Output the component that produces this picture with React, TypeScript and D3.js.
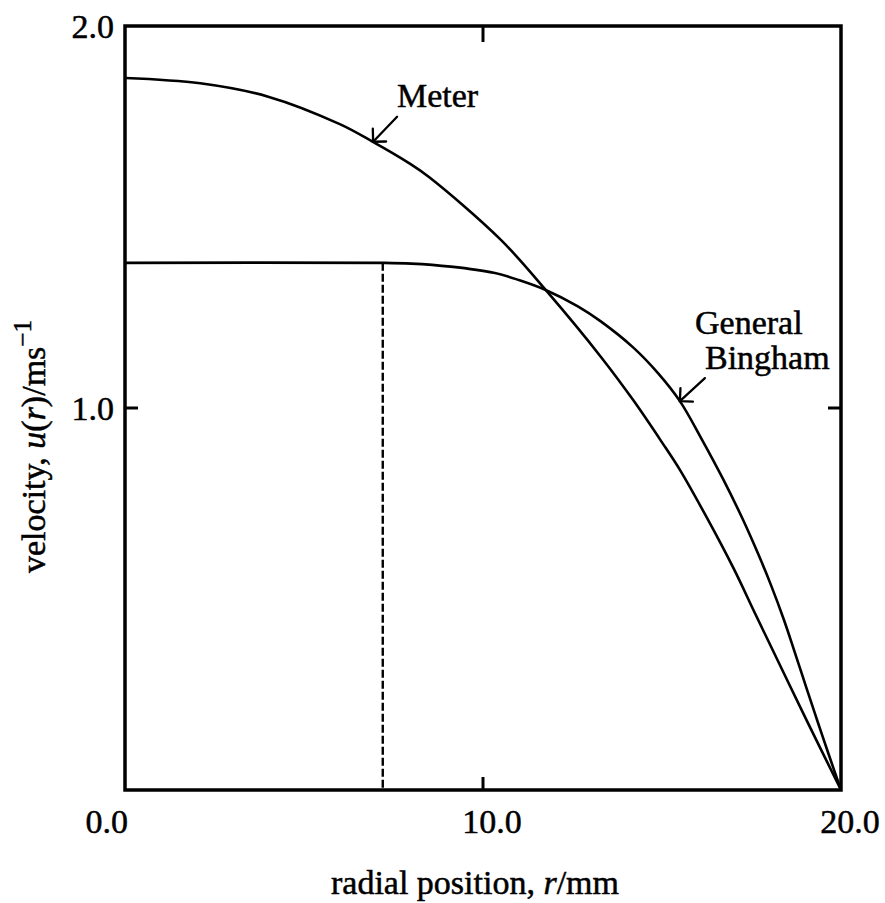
import React from "react";
import * as d3 from "d3";

// Data
const meterR = [0, 2.1, 4.0, 6.0, 6.9, 7.9, 8.5, 10.5, 11.75, 13.3, 14.2, 15.0, 15.5, 16.2, 17.0, 17.6, 18.3, 19.0, 20];
const meterV = [1.864, 1.85, 1.815, 1.743, 1.698, 1.643, 1.604, 1.44, 1.309, 1.133, 1.02, 0.91, 0.838, 0.722, 0.58, 0.462, 0.326, 0.19, 0];

const binghamR = [0, 7.2, 8.0, 9.1, 10.3, 11.0, 11.75, 12.65, 13.3, 14.2, 14.9, 15.5, 16.1, 16.7, 17.25, 17.7, 18.05, 18.4, 18.7, 19.05, 19.35, 19.65, 20];
const binghamV = [1.38, 1.38, 1.378, 1.37, 1.354, 1.335, 1.309, 1.266, 1.226, 1.158, 1.09, 1.018, 0.92, 0.815, 0.71, 0.615, 0.535, 0.447, 0.363, 0.263, 0.178, 0.095, 0];

const plugRadius = 7.2;
const xTicks = [0, 10, 20];
const xTickLabels = ["0.0", "10.0", "20.0"];
const yTicks = [1, 2];
const yTickLabels = ["1.0", "2.0"];
const xInnerTicks = [10];
const yInnerTicks = [1];

// Layout
const W = 885;
const H = 903;
const left = 125;
const right = 841;
const top = 26;
const bottom = 790;
const FONT = "Liberation Serif, Times New Roman, Times, serif";
const FS = 34;
const textStyle: React.CSSProperties = { fontFamily: FONT, fontSize: FS };

export default function App() {
  const x = d3.scaleLinear().domain([0, 20]).range([left, right]);
  const y = d3.scaleLinear().domain([0, 2]).range([bottom, top]);

  const line = d3
    .line<[number, number]>()
    .x((d) => x(d[0]))
    .y((d) => y(d[1]))
    .curve(d3.curveCatmullRom.alpha(0.5));

  const meter: [number, number][] = meterR.map((r, i) => [r, meterV[i]]);
  const bingham: [number, number][] = binghamR.map((r, i) => [r, binghamV[i]]);

  const arrow = (tx: number, ty: number, dx: number, dy: number, key: string) => {
    const len = Math.hypot(dx, dy);
    const ux = dx / len;
    const uy = dy / len;
    const head = 13;
    const a = Math.PI / 4;
    const rot = (vx: number, vy: number, ang: number) => [
      vx * Math.cos(ang) - vy * Math.sin(ang),
      vx * Math.sin(ang) + vy * Math.cos(ang),
    ];
    const [h1x, h1y] = rot(ux, uy, a);
    const [h2x, h2y] = rot(ux, uy, -a);
    return (
      <g key={key} stroke="#000" strokeWidth={2.3} fill="none" strokeLinecap="round">
        <line x1={tx} y1={ty} x2={tx + dx} y2={ty + dy} />
        <polyline
          points={`${tx + h1x * head},${ty + h1y * head} ${tx},${ty} ${tx + h2x * head},${ty + h2y * head}`}
        />
      </g>
    );
  };

  const meterTip = { r: 6.93, v: 1.697 };
  const binghamTip = { r: 15.5, v: 1.018 };

  return (
    <svg
      width={W}
      height={H}
      style={{ position: "absolute", left: 0, top: 0, background: "#fff" }}
    >
      <rect x={0} y={0} width={W} height={H} fill="#fff" />
      {/* curves */}
      <path d={line(meter) || ""} fill="none" stroke="#000" strokeWidth={2.6} />
      <path d={line(bingham) || ""} fill="none" stroke="#000" strokeWidth={2.6} />
      {/* plug radius dashed line */}
      <line
        x1={x(plugRadius)}
        x2={x(plugRadius)}
        y1={y(binghamV[1])}
        y2={y(0)}
        stroke="#000"
        strokeWidth={2.4}
        strokeDasharray="8,3"
      />
      {/* frame */}
      <rect
        x={left}
        y={top}
        width={right - left}
        height={bottom - top}
        fill="none"
        stroke="#000"
        strokeWidth={3.5}
      />
      {/* inward ticks */}
      {xInnerTicks.map((t) => (
        <g key={"xt" + t} stroke="#000" strokeWidth={3}>
          <line x1={x(t)} x2={x(t)} y1={bottom} y2={bottom - 13} />
          <line x1={x(t)} x2={x(t)} y1={top} y2={top + 16} />
        </g>
      ))}
      {yInnerTicks.map((t) => (
        <g key={"yt" + t} stroke="#000" strokeWidth={3}>
          <line x1={left} x2={left + 13} y1={y(t)} y2={y(t)} />
          <line x1={right} x2={right - 13} y1={y(t)} y2={y(t)} />
        </g>
      ))}
      {/* x tick labels */}
      {xTicks.map((t, i) => (
        <text
          key={"xl" + t}
          x={i === 0 ? x(t) + 3 : x(t) + 9}
          y={833}
          style={textStyle}
          textAnchor={i === 0 ? "end" : "middle"}
          fill="#000"
          stroke="#000"
          strokeWidth={0.5}
        >
          {xTickLabels[i]}
        </text>
      ))}
      {/* y tick labels */}
      {yTicks.map((t, i) => (
        <text
          key={"yl" + t}
          x={114}
          y={y(t) + 12}
          style={textStyle}
          textAnchor="end"
          fill="#000"
          stroke="#000"
          strokeWidth={0.5}
        >
          {yTickLabels[i]}
        </text>
      ))}
      {/* axis titles */}
      <text
        x={(left + right) / 2 - 8}
        y={894}
        style={textStyle}
        textAnchor="middle"
        fill="#000"
        stroke="#000"
        strokeWidth={0.5}
      >
        radial position, <tspan fontStyle="italic">r</tspan>/mm
      </text>
      <text
        transform="translate(45, 573) rotate(-90)"
        style={textStyle}
        textAnchor="start"
        fill="#000"
        stroke="#000"
        strokeWidth={0.5}
      >
        velocity, <tspan fontStyle="italic">u</tspan>(<tspan fontStyle="italic">r</tspan>)/ms
        <tspan style={{ fontSize: 25 }} dy={-14}>−1</tspan>
      </text>
      {/* annotations */}
      <text x={397} y={107} style={textStyle} fill="#000" stroke="#000" strokeWidth={0.5}>
        Meter
      </text>
      {arrow(x(meterTip.r), y(meterTip.v), 24, -25, "ma")}
      <text x={695} y={334} style={textStyle} fill="#000" stroke="#000" strokeWidth={0.5}>
        General
      </text>
      <text x={705} y={369} style={textStyle} fill="#000" stroke="#000" strokeWidth={0.5}>
        Bingham
      </text>
      {arrow(x(binghamTip.r), y(binghamTip.v), 25, -23, "ba")}
    </svg>
  );
}
